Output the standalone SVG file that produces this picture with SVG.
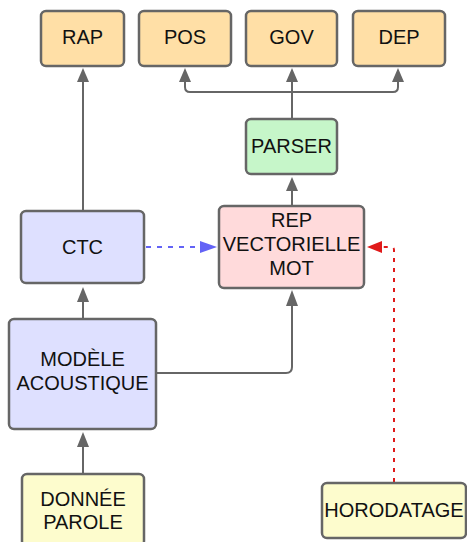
<svg xmlns="http://www.w3.org/2000/svg" width="467" height="542" viewBox="0 0 467 542">
<style>
.box{stroke:#666;stroke-width:2.5}
.t{font-family:"Liberation Sans",Arial,sans-serif;font-size:20px;fill:#111;text-anchor:middle}
.orange{fill:#ffdfa6}
.green{fill:#c6f6c9}
.blue{fill:#dee0ff}
.pink{fill:#ffdadb}
.yellow{fill:#fdfccd}
.c{fill:none;stroke:#666;stroke-width:2}
</style>
<g id="connectors">
<path class="c" d="M83,211 V82" />
<path d="M77,82 L83,68 L89,82 z" fill="#666"/>
<path class="c" d="M292,119 V92 M185,82 V87 Q185,92 190,92 H393 Q398,92 398,87 V82 M292,92 V82"/>
<path d="M179,82 L185,68 L191,82 z M286,82 L292,68 L298,82 z M392,82 L398,68 L404,82 z" fill="#666"/>
<path class="c" d="M292,206 V191"/>
<path d="M286,191 L292,177 L298,191 z" fill="#666"/>
<path class="c" d="M83,319 V302"/>
<path d="M77,302 L83,287 L89,302 z" fill="#666"/>
<path class="c" d="M156,373 H286 Q292,373 292,367 V306"/>
<path d="M286,306 L292,290 L298,306 z" fill="#666"/>
<path class="c" d="M83,474 V447"/>
<path d="M77,447 L83,432 L89,447 z" fill="#666"/>
<path d="M146,247 H201" fill="none" stroke="#6363f6" stroke-width="2" stroke-dasharray="5,6"/>
<path d="M200,241 L217,247 L200,253 z" fill="#6363f6"/>
<path d="M394,482 V250 Q394,247 391,247 H382" fill="none" stroke="#e01a1a" stroke-width="2" stroke-dasharray="4,6"/>
<path d="M382,247 H378" stroke="#e01a1a" stroke-width="2"/>
<path d="M382,241 L367,247 L382,253 z" fill="#e01a1a"/>
</g>
<g id="RAP"><rect class="box orange" x="41" y="11" width="83" height="55" rx="5"/><text class="t" x="82.5" y="44">RAP</text></g>
<g id="POS"><rect class="box orange" x="139" y="11" width="92" height="55" rx="5"/><text class="t" x="185" y="44">POS</text></g>
<g id="GOV"><rect class="box orange" x="246" y="11" width="91" height="55" rx="5"/><text class="t" x="291.5" y="44">GOV</text></g>
<g id="DEP"><rect class="box orange" x="353" y="11" width="92" height="55" rx="5"/><text class="t" x="399" y="44">DEP</text></g>
<g id="PARSER"><rect class="box green" x="246" y="119" width="91" height="55" rx="5"/><text class="t" x="291.5" y="153">PARSER</text></g>
<g id="CTC"><rect class="box blue" x="21" y="211" width="123" height="72" rx="5"/><text class="t" x="82.5" y="254">CTC</text></g>
<g id="REP"><rect class="box pink" x="219" y="206" width="145" height="82" rx="5"/><text class="t" x="291.5" y="227">REP</text><text class="t" x="291.5" y="251">VECTORIELLE</text><text class="t" x="291.5" y="275">MOT</text></g>
<g id="MODELE"><rect class="box blue" x="9" y="319" width="147" height="110" rx="5"/><text class="t" x="82.5" y="366">MODÈLE</text><text class="t" x="82.5" y="390">ACOUSTIQUE</text></g>
<g id="DONNEE"><rect class="box yellow" x="22" y="474" width="122" height="72" rx="5"/><text class="t" x="83" y="506">DONNÉE</text><text class="t" x="83" y="529">PAROLE</text></g>
<g id="HORODATAGE"><rect class="box yellow" x="322" y="483" width="144" height="55" rx="5"/><text class="t" x="394" y="517">HORODATAGE</text></g>
</svg>
